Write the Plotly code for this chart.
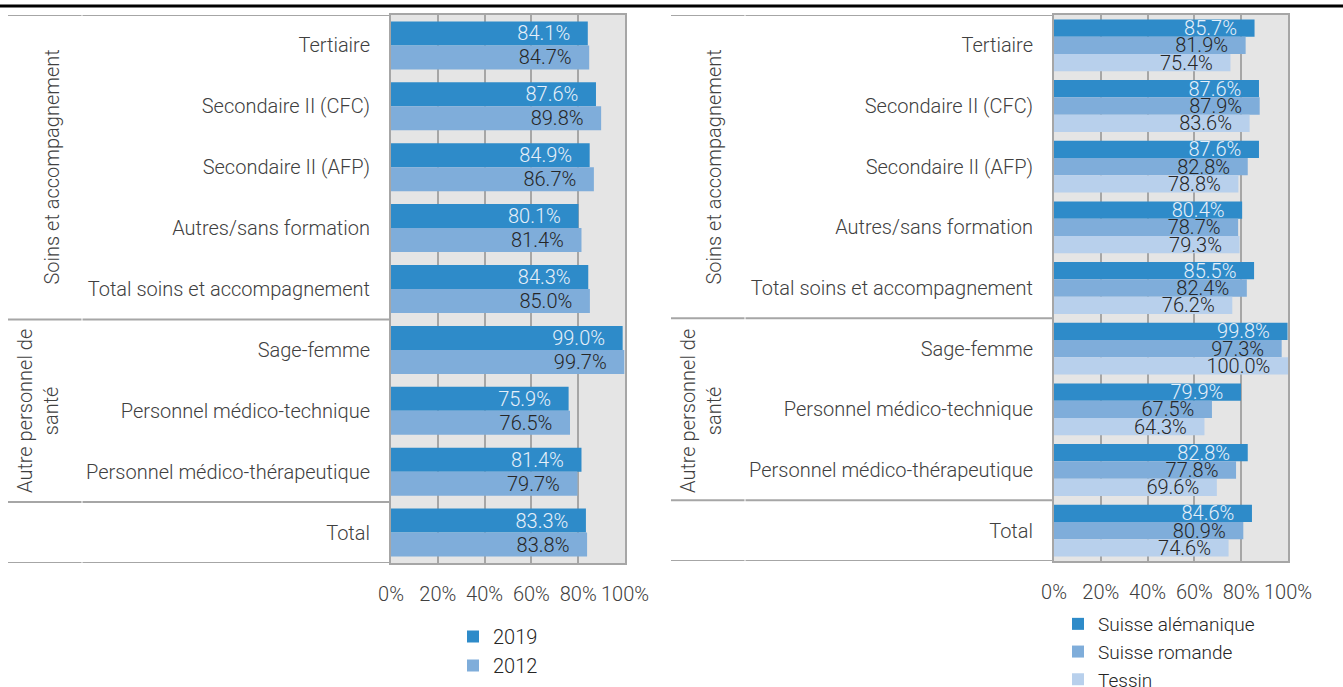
import plotly.graph_objects as go

W, H = 1343, 687

categories = [
    "Tertiaire",
    "Secondaire II (CFC)",
    "Secondaire II (AFP)",
    "Autres/sans formation",
    "Total soins et accompagnement",
    "Sage-femme",
    "Personnel médico-technique",
    "Personnel médico-thérapeutique",
    "Total",
]

# Left panel: by survey year (%)
year_2019 = [84.1, 87.6, 84.9, 80.1, 84.3, 99.0, 75.9, 81.4, 83.3]
year_2012 = [84.7, 89.8, 86.7, 81.4, 85.0, 99.7, 76.5, 79.7, 83.8]

# Right panel: by language region (%)
suisse_alemanique = [85.7, 87.6, 87.6, 80.4, 85.5, 99.8, 79.9, 82.8, 84.6]
suisse_romande = [81.9, 87.9, 82.8, 78.7, 82.4, 97.3, 67.5, 77.8, 80.9]
tessin = [75.4, 83.6, 78.8, 79.3, 76.2, 100.0, 64.3, 69.6, 74.6]

x_ticks = [0, 20, 40, 60, 80, 100]
x_tick_labels = [f"{v}%" for v in x_ticks]

C_DARK = "#2e8bc9"
C_MID = "#7fadda"
C_LIGHT = "#b8d0ec"
TXT = "#404040"
FONT = "Roboto"
GRID = "#a6a6a6"
FS = 20


def px_x(p):
    return p / W


def px_y(p):
    return 1 - p / H


fig = go.Figure()

NB = "\u00a0\u00a0\u00a0"


def add_bar(vals, name, color, txtcolor, xa, ya, offset, width, legend, group):
    fig.add_trace(go.Bar(
        y=categories, x=vals, orientation="h", name=name,
        marker=dict(color=color, line=dict(width=0)),
        offset=offset, width=width,
        text=[f"{v:.1f}%" + NB for v in vals],
        textposition="inside", insidetextanchor="end", constraintext="none",
        textfont=dict(family=FONT, size=FS, color=txtcolor, weight=300),
        xaxis=xa, yaxis=ya, legend=legend, legendgroup=group,
        hoverinfo="skip",
    ))


bw_l = 0.394
add_bar(year_2019, "2019", C_DARK, "#e6f0fa", "x", "y", -bw_l, bw_l, "legend", "a")
add_bar(year_2012, "2012", C_MID, "#262626", "x", "y", 0.0, bw_l, "legend", "b")

bw_r = 0.285
add_bar(suisse_alemanique, "Suisse alémanique", C_DARK, "#e6f0fa", "x2", "y2",
        -1.5 * bw_r, bw_r, "legend2", "c")
add_bar(suisse_romande, "Suisse romande", C_MID, "#262626", "x2", "y2",
        -0.5 * bw_r, bw_r, "legend2", "d")
add_bar(tessin, "Tessin", C_LIGHT, "#262626", "x2", "y2",
        0.5 * bw_r, bw_r, "legend2", "e")

xaxis_common = dict(
    range=[0, 100], tickmode="array", tickvals=x_ticks, ticktext=x_tick_labels,
    showgrid=True, gridcolor=GRID, gridwidth=2, zeroline=False,
    showline=True, mirror=True, linecolor=GRID, linewidth=2,
    ticks="", ticklabelstandoff=12,
    tickfont=dict(family=FONT, size=FS, color=TXT, weight=300),
    fixedrange=True,
)
yaxis_common = dict(
    type="category", categoryorder="array", categoryarray=categories,
    range=[8.5, -0.5], showgrid=False, zeroline=False,
    showline=True, mirror=True, linecolor=GRID, linewidth=2,
    ticks="", ticklabelstandoff=15,
    tickfont=dict(family=FONT, size=FS, color=TXT, weight=300),
    fixedrange=True,
)

fig.update_layout(
    width=W, height=H,
    margin=dict(l=0, r=0, t=0, b=0, autoexpand=False),
    paper_bgcolor="white", plot_bgcolor="#e5e5e5",
    barmode="group",
    xaxis=dict(domain=[px_x(391), px_x(625)], anchor="y", **xaxis_common),
    yaxis=dict(domain=[px_y(563), px_y(15)], anchor="x", **yaxis_common),
    xaxis2=dict(domain=[px_x(1054), px_x(1288)], anchor="y2", **xaxis_common),
    yaxis2=dict(domain=[px_y(561), px_y(15)], anchor="x2", **yaxis_common),
    legend=dict(
        x=px_x(453), y=px_y(617), xanchor="left", yanchor="top",
        orientation="v", traceorder="grouped", tracegroupgap=0,
        font=dict(family=FONT, size=FS, color="#262626", weight=300),
        bgcolor="rgba(0,0,0,0)", itemclick=False, itemdoubleclick=False,
    ),
    legend2=dict(
        x=px_x(1058), y=px_y(605), xanchor="left", yanchor="top",
        orientation="v", traceorder="grouped", tracegroupgap=0,
        font=dict(family=FONT, size=19, color="#262626", weight=300),
        bgcolor="rgba(0,0,0,0)", itemclick=False, itemdoubleclick=False,
    ),
    showlegend=True,
)

# Rule across the top of the page
shapes = [dict(type="line", xref="paper", yref="paper", x0=0, x1=1,
               y0=px_y(6), y1=px_y(6), line=dict(color="black", width=3))]

# Group separators beside the category labels
for yref, x0, xb, x1 in [("y", 8, 82, 391), ("y2", 671, 745, 1054)]:
    for b in [-0.5, 4.5, 7.5, 8.5]:
        shapes.append(dict(type="line", xref="paper", yref=yref,
                           x0=px_x(x0), x1=px_x(xb - 0.5), y0=b, y1=b,
                           line=dict(color=GRID, width=2)))
        shapes.append(dict(type="line", xref="paper", yref=yref,
                           x0=px_x(xb + 0.5), x1=px_x(x1), y0=b, y1=b,
                           line=dict(color=GRID, width=2)))
fig.update_layout(shapes=shapes)

# Group titles, written vertically
annotations = []
for xa, xb in [(51, 38), (713, 701)]:
    annotations.append(dict(
        text="Soins et accompagnement", xref="paper", yref="paper",
        x=px_x(xa), y=px_y(167.5), xanchor="center", yanchor="middle",
        textangle=-90, showarrow=False,
        font=dict(family=FONT, size=FS, color=TXT, weight=300)))
    annotations.append(dict(
        text="Autre personnel de<br>santé", xref="paper", yref="paper",
        x=px_x(xb), y=px_y(411), xanchor="center", yanchor="middle",
        textangle=-90, showarrow=False,
        font=dict(family=FONT, size=FS, color=TXT, weight=300)))
fig.update_layout(annotations=annotations)

fig.write_html("out.html")
